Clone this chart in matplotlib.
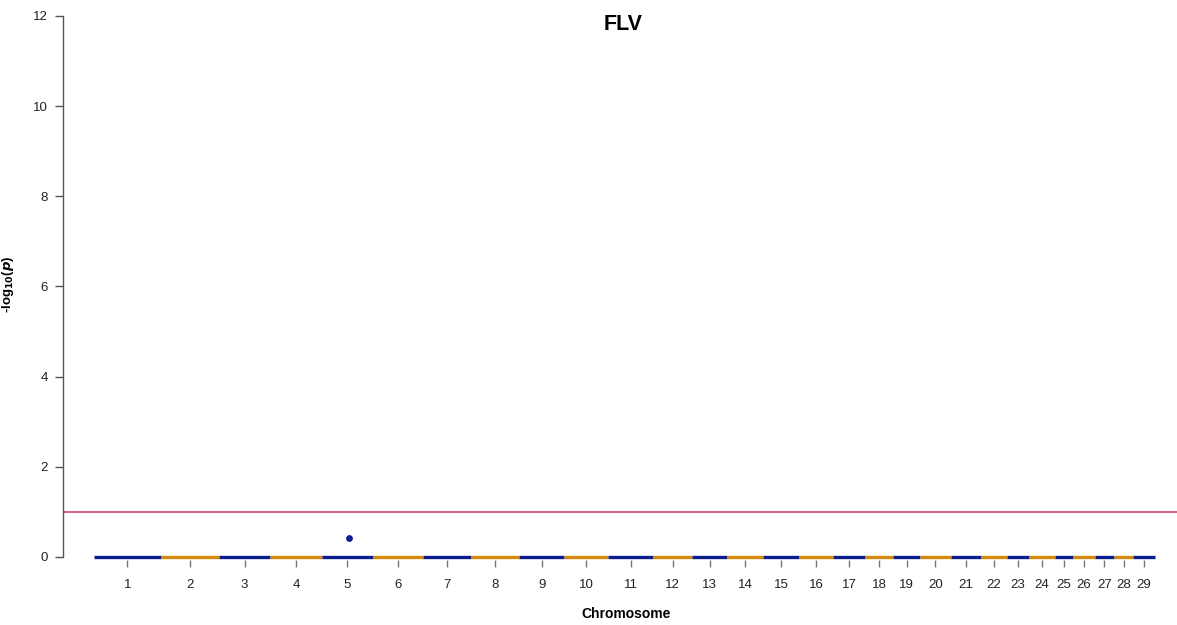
import matplotlib
matplotlib.use("Agg")
import matplotlib.pyplot as plt
import numpy as np

# ---- data ----
chromosomes = [str(i) for i in range(1, 30)]
chrom_lengths_mb = [158, 137, 121, 121, 121, 119, 113, 114, 105, 104, 107, 91, 84, 84,
                    85, 81, 75, 66, 64, 72, 71, 61, 52, 62, 43, 51, 45, 46, 51]
chrom_baseline = [0.0] * 29            # -log10(p) of the bulk of SNPs per chromosome
snp_chrom = ["5"]
snp_pos_mb = [65.0]
snp_logp = [0.42]
threshold = 1.0
title = "FLV"

navy = "#0B1E8E"
orange = "#D58A0E"
red = "#D9648F"

plt.rcParams['font.family'] = ['Liberation Sans', 'DejaVu Sans']

fig = plt.figure(figsize=(11.77, 6.25), dpi=100)
ax = fig.add_axes([63 / 1177, 1 - 560 / 625, 1 - 63 / 1177, 544 / 625])

lengths = np.array(chrom_lengths_mb, dtype=float)
starts = np.concatenate([[0], np.cumsum(lengths)[:-1]])
ends = starts + lengths
centers = (starts + ends) / 2

for i in range(len(chromosomes)):
    c = navy if i % 2 == 0 else orange
    ax.hlines(chrom_baseline[i], starts[i], ends[i], colors=c, linewidth=2.4,
              clip_on=False, zorder=3)

for ch, pos, lp in zip(snp_chrom, snp_pos_mb, snp_logp):
    idx = chromosomes.index(ch)
    c = navy if idx % 2 == 0 else orange
    ax.scatter(starts[idx] + pos, lp, s=24, color=c, zorder=4, linewidths=0)

ax.axhline(threshold, color=red, linewidth=1.5, zorder=2)

scale = 0.4237
ax.set_xlim(-31 / scale, (1177 - 94) / scale)
ax.set_ylim(-3 / 45.08, 12)

for s in ['top', 'right', 'bottom']:
    ax.spines[s].set_visible(False)
ax.spines['left'].set_bounds(0, 12)
ax.spines['left'].set_color('#555555')
ax.spines['left'].set_linewidth(1.0)

ax.set_yticks(np.arange(0, 13, 2))
ax.set_yticklabels([str(v) for v in range(0, 13, 2)])
ax.tick_params(axis='y', length=6, width=1.0, color='#555555', pad=5,
               labelsize=9.5, labelcolor='#222222')
ax.set_xticks(centers)
ax.set_xticklabels(chromosomes)
ax.tick_params(axis='x', length=5.3, width=1.0, color='#777777', pad=8.5,
               labelsize=9.5, labelcolor='#222222')

ax.set_xlabel("Chromosome", fontsize=10, fontweight='bold')
ax.xaxis.set_label_coords(0.505, -0.086)
ax.set_ylabel(r'-log$_{\mathbf{10}}$($\mathbfit{p}$)', fontsize=9.5, fontweight='bold')
ax.yaxis.set_label_coords(-0.042, 0.507)

ax.text(0.503, 0.985, title, transform=ax.transAxes, ha='center', va='center',
        fontsize=15.5, fontweight='bold')

fig.savefig("out.png", dpi=100)
